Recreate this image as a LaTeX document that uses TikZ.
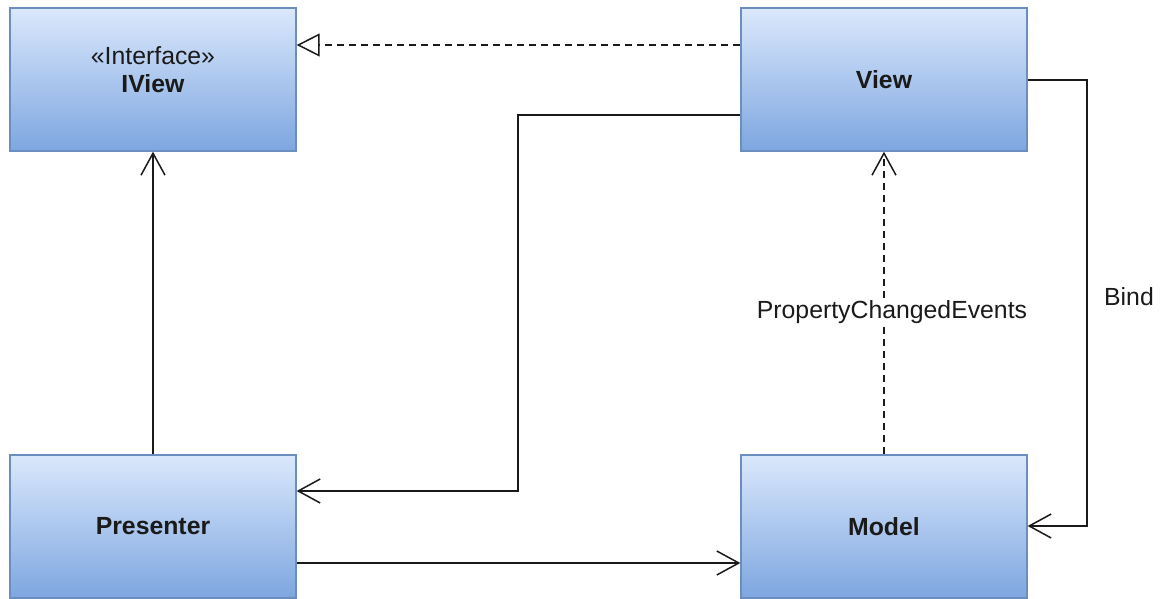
\documentclass[tikz,border=0pt]{standalone}
\usepackage{fontspec}
\setmainfont{Liberation Sans}
\usetikzlibrary{arrows.meta}
\definecolor{boxtop}{HTML}{DAE8FC}
\definecolor{boxbot}{HTML}{7EA6E0}
\definecolor{boxline}{HTML}{6C8EBF}
\definecolor{ink}{HTML}{1A1A1A}
\tikzset{
  umlbox/.style={draw=boxline, line width=1.3pt, top color=boxtop, bottom color=boxbot,
    minimum width=286pt, minimum height=143pt, inner sep=0pt, text=ink,
    font=\fontsize{24.8pt}{29pt}\selectfont\bfseries, align=center},
  link/.style={draw=ink, line width=1.5pt},
  dep/.style={link, dash pattern=on 7pt off 5pt},
  open arrow/.style={-{Straight Barb[length=22pt,width=24pt,line width=1.5pt]}},
  realize/.style={-{Triangle[open,length=23pt,width=23pt,line width=1.5pt,fill=white]}},
  lbl/.style={font=\fontsize{24.8pt}{29pt}\selectfont, text=ink, inner sep=2pt}
}
\begin{document}
\begin{tikzpicture}[x=1pt,y=-1pt]
  \useasboundingbox (0,0) rectangle (1163,599);
  % class boxes
  \node[umlbox] (iview) at (153,79.5) {};
  \node[align=center, inner sep=0pt, text=ink, font=\fontsize{24.8pt}{28pt}\selectfont]
    (iviewtext) at (153,70) {«Interface»\\\textbf{IView}};
  \node[umlbox] (view) at (884,79.5) {\raisebox{-2pt}{View}};
  \node[umlbox] (presenter) at (153,526.5) {\raisebox{-2.5pt}{Presenter}};
  \node[umlbox] (model) at (884,526.5) {\raisebox{-2.5pt}{Model}};

  % bends of the routed connectors
  \coordinate (vp1) at (518,115);
  \coordinate (vp2) at (518,491);
  \coordinate (vm1) at (1087,80);
  \coordinate (vm2) at (1087,526);

  % View realizes IView
  \draw[dep, realize] (view.west |- 0,45) -- (iview.east |- 0,45);
  % View -> Presenter
  \draw[link, open arrow] (view.west |- vp1) -- (vp1) -- (vp2) -- (presenter.east |- vp2);
  % Presenter -> IView
  \draw[link, open arrow] (presenter.north) -- (iview.south);
  % Presenter -> Model
  \draw[link, open arrow] (presenter.east |- 0,563) -- (model.west |- 0,563);
  % Model notifies View
  \draw[dep, open arrow] (model.north) -- (view.south);
  \node[lbl, fill=white] (pce) at (892,312) {PropertyChangedEvents};
  % View binds Model
  \draw[link, open arrow] (view.east |- vm1) -- (vm1) -- (vm2) -- (model.east |- vm2);
  \node[lbl] (bind) at (1129,297) {Bind};
\end{tikzpicture}
\end{document}
